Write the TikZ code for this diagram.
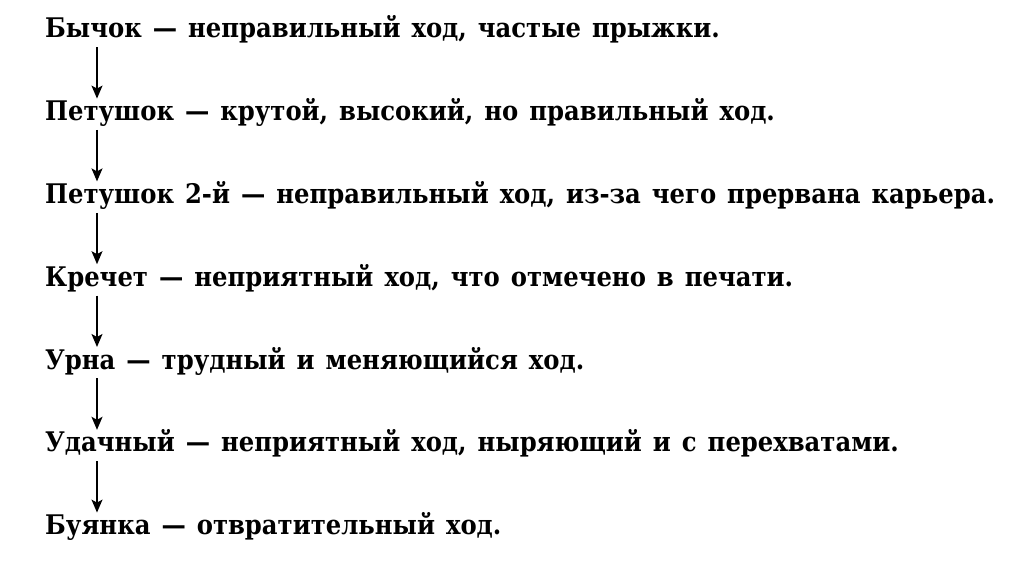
\documentclass[tikz,border=0pt]{standalone}
\usepackage{fontspec}
\setmainfont{DejaVu Serif Condensed}
\usepackage{tikz}
\usetikzlibrary{arrows.meta, positioning, calc}

\newcommand{\gaitfont}{\fontsize{27}{32}\selectfont\bfseries\spaceskip=11pt plus 2pt minus 2pt\relax}

\begin{document}
\begin{tikzpicture}[
  node distance=82.8pt,
  gait/.style={
    anchor=base west,
    inner sep=0pt,
    text height=22pt,
    text depth=9pt,
    font=\gaitfont,
  },
  arrow/.style={-{Stealth[length=13pt, width=11pt, inset=3pt]}, line width=1.5pt}
]
\useasboundingbox (0,0) rectangle (1027pt,561pt);

% ===== LINES OF TEXT =====
\node[gait] (b1) at (45pt,523pt) {Бычок — неправильный ход, частые прыжки.};

\node[gait, below=of b1.base west, anchor=base west] (b2) {Петушок — крутой, высокий, но правильный ход.};

\node[gait, below=of b2.base west, anchor=base west] (b3) {Петушок 2-й — неправильный ход, из-за чего прервана карьера.};

\node[gait, below=of b3.base west, anchor=base west] (b4) {Кречет — неприятный ход, что отмечено в печати.};

\node[gait, below=of b4.base west, anchor=base west] (b5) {Урна — трудный и меняющийся ход.};

\node[gait, below=of b5.base west, anchor=base west] (b6) {Удачный — неприятный ход, ныряющий и с перехватами.};

\node[gait, below=of b6.base west, anchor=base west] (b7) {Буянка — отвратительный ход.};

% ===== DOWNWARD ARROWS =====
\draw[arrow] ($(b1.south west)+(52pt,0)$) -- ($(b2.north west)+(52pt,0)$);
\draw[arrow] ($(b2.south west)+(52pt,0)$) -- ($(b3.north west)+(52pt,0)$);
\draw[arrow] ($(b3.south west)+(52pt,0)$) -- ($(b4.north west)+(52pt,0)$);
\draw[arrow] ($(b4.south west)+(52pt,0)$) -- ($(b5.north west)+(52pt,0)$);
\draw[arrow] ($(b5.south west)+(52pt,0)$) -- ($(b6.north west)+(52pt,0)$);
\draw[arrow] ($(b6.south west)+(52pt,0)$) -- ($(b7.north west)+(52pt,0)$);

\end{tikzpicture}
\end{document}
